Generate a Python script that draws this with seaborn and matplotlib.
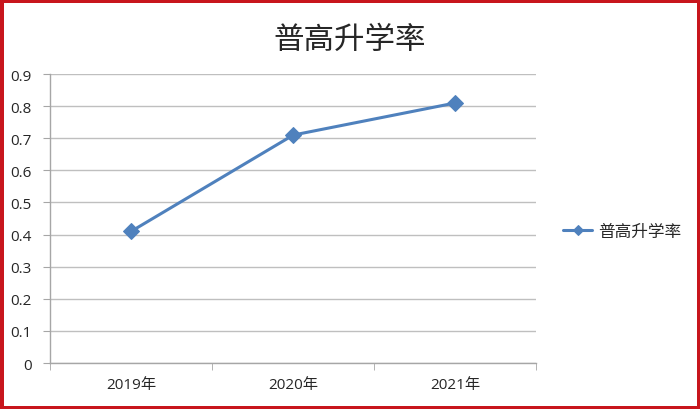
import pandas as pd
import matplotlib.pyplot as plt
import matplotlib.ticker as mticker
import seaborn as sns

years = ['2019年', '2020年', '2021年']
rates = [0.41, 0.71, 0.81]
series_name = '普高升学率'

df = pd.DataFrame({'year': years, 'rate': rates, 'series': series_name})

sns.set_style('white')
plt.rcParams['font.family'] = ['Noto Sans CJK SC', 'DejaVu Sans']

fig = plt.figure(figsize=(7, 4.1), dpi=100)
fig.patch.set_edgecolor('#c8161d')
fig.patch.set_linewidth(5)
ax = fig.add_axes([0.0714, 0.112, 0.695, 0.705])

sns.lineplot(data=df, x='year', y='rate', hue='series', palette=['#4f81bd'],
             marker='D', markersize=8, linewidth=2.2, markeredgecolor='#4f81bd',
             sort=False, ax=ax)

ax.set_xlim(-0.5, 2.5)
ax.set_ylim(0, 0.9)
ax.yaxis.set_major_locator(mticker.MultipleLocator(0.1))
ax.yaxis.set_major_formatter(mticker.FuncFormatter(lambda v, _: '0' if abs(v) < 1e-9 else f'{v:.1f}'))
ax.grid(axis='y', color='#bfbfbf', linewidth=1)
ax.set_axisbelow(True)

for s in ['top', 'right']:
    ax.spines[s].set_visible(False)
for s in ['left', 'bottom']:
    ax.spines[s].set_color('#a6a6a6')
    ax.spines[s].set_linewidth(1)

ax.set_xticks(range(len(years)))
ax.set_xticklabels(years)
ax.xaxis.set_minor_locator(mticker.FixedLocator([-0.5, 0.5, 1.5, 2.5]))
ax.tick_params(axis='x', which='major', length=0, pad=10, labelsize=11)
ax.tick_params(axis='x', which='minor', length=5, color='#a6a6a6', bottom=True)
ax.tick_params(axis='y', length=5, color='#a6a6a6', left=True, labelsize=11, pad=8)
for lbl in ax.get_xticklabels() + ax.get_yticklabels():
    lbl.set_family(['Open Sans', 'Noto Sans CJK SC'])

ax.set_xlabel('')
ax.set_ylabel('')
fig.suptitle(series_name, x=0.5, y=0.94, fontsize=22)

ax.legend(loc='center left', bbox_to_anchor=(1.055, 0.457), frameon=False,
          fontsize=12, handlelength=1.75, handletextpad=0.35, markerscale=0.6,
          borderaxespad=0, borderpad=0)

fig.savefig('out.png', dpi=100, edgecolor=fig.get_edgecolor())
